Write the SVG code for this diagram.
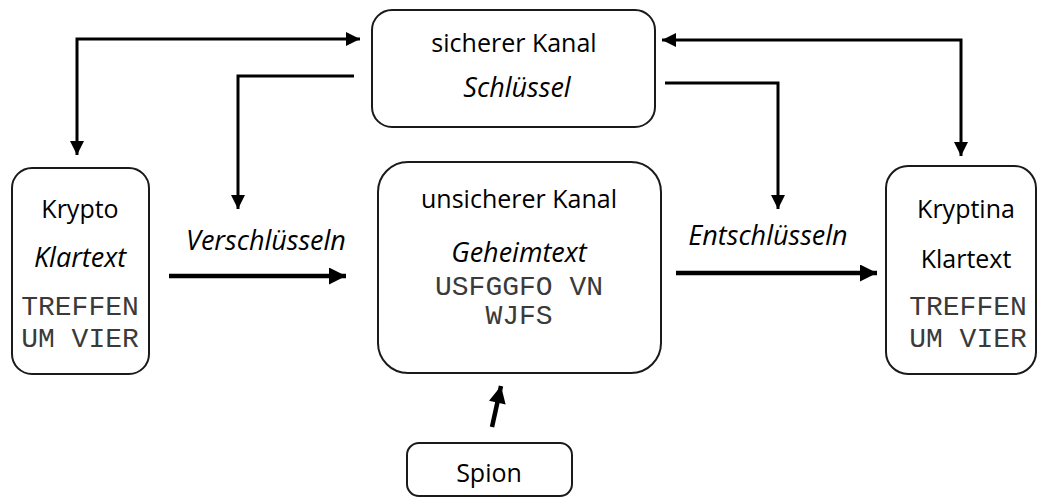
<svg xmlns="http://www.w3.org/2000/svg" width="1038" height="498" viewBox="0 0 1038 498">
<defs>
<style>
.box{fill:#fff;stroke:#1a1a1a;stroke-width:2}
.t{font-family:"Open Sans","Liberation Sans",sans-serif;font-size:25px;fill:#000;text-anchor:middle}
.i{font-style:italic;font-size:27px}
.m{font-family:"Courier New","Nimbus Mono PS","FreeMono","Liberation Mono",monospace;font-size:28px;fill:#3a3a3a;text-anchor:middle}
.c{fill:none;stroke:#000;stroke-width:3}
.cb{fill:none;stroke:#000;stroke-width:4.5}
</style>
<marker id="ah" viewBox="0 0 10 10" refX="10" refY="5" markerWidth="14" markerHeight="14" markerUnits="userSpaceOnUse" orient="auto-start-reverse">
<path d="M0,0 L10,5 L0,10 Z" fill="#000"/>
</marker>
<marker id="ahb" viewBox="0 0 10 10" refX="10" refY="5" markerWidth="18" markerHeight="17" markerUnits="userSpaceOnUse" orient="auto">
<path d="M0,0 L10,5 L0,10 Z" fill="#000"/>
</marker>
</defs>
<rect width="1038" height="498" fill="#fff"/>
<g id="connectors">
<path class="c" d="M77,155 L77,39 L360,39" marker-start="url(#ah)" marker-end="url(#ah)"/>
<path class="c" d="M354,76 L238,76 L238,209" marker-end="url(#ah)"/>
<path class="c" d="M662,40 L961,40 L961,156" marker-start="url(#ah)" marker-end="url(#ah)"/>
<path class="c" d="M665,83 L778,83 L778,209" marker-end="url(#ah)"/>
<path class="cb" d="M169,276 L346,276" marker-end="url(#ahb)"/>
<path class="cb" d="M676,273 L877,273" marker-end="url(#ahb)"/>
<path class="cb" d="M492,427 L501,386" marker-end="url(#ahb)"/>
</g>
<g id="sicherer">
<rect class="box" x="372" y="10" width="283" height="117" rx="20"/>
<text class="t" x="514" y="52">sicherer Kanal</text>
<text class="t i" x="517" y="97">Schlüssel</text>
</g>
<g id="unsicherer">
<rect class="box" x="378" y="162" width="283" height="211" rx="30"/>
<text class="t" x="519" y="208">unsicherer Kanal</text>
<text class="t i" x="519" y="262">Geheimtext</text>
<text class="m" x="519" y="295">USFGGFO VN</text>
<text class="m" x="519" y="324">WJFS</text>
</g>
<g id="krypto">
<rect class="box" x="12" y="168" width="137" height="206" rx="20"/>
<text class="t" x="80" y="218">Krypto</text>
<text class="t i" x="80" y="267">Klartext</text>
<text class="m" x="80" y="315">TREFFEN</text>
<text class="m" x="80" y="347">UM VIER</text>
</g>
<g id="kryptina">
<rect class="box" x="886" y="166" width="150" height="208" rx="22"/>
<text class="t" x="966" y="218">Kryptina</text>
<text class="t" x="966" y="268">Klartext</text>
<text class="m" x="968" y="315">TREFFEN</text>
<text class="m" x="968" y="347">UM VIER</text>
</g>
<g id="verschluesseln">
<text class="t i" x="266" y="250">Verschlüsseln</text>
</g>
<g id="entschluesseln">
<text class="t i" x="768" y="245">Entschlüsseln</text>
</g>
<g id="spion">
<rect class="box" x="407" y="443" width="165" height="53" rx="12"/>
<text class="t" x="489" y="482">Spion</text>
</g>
</svg>
